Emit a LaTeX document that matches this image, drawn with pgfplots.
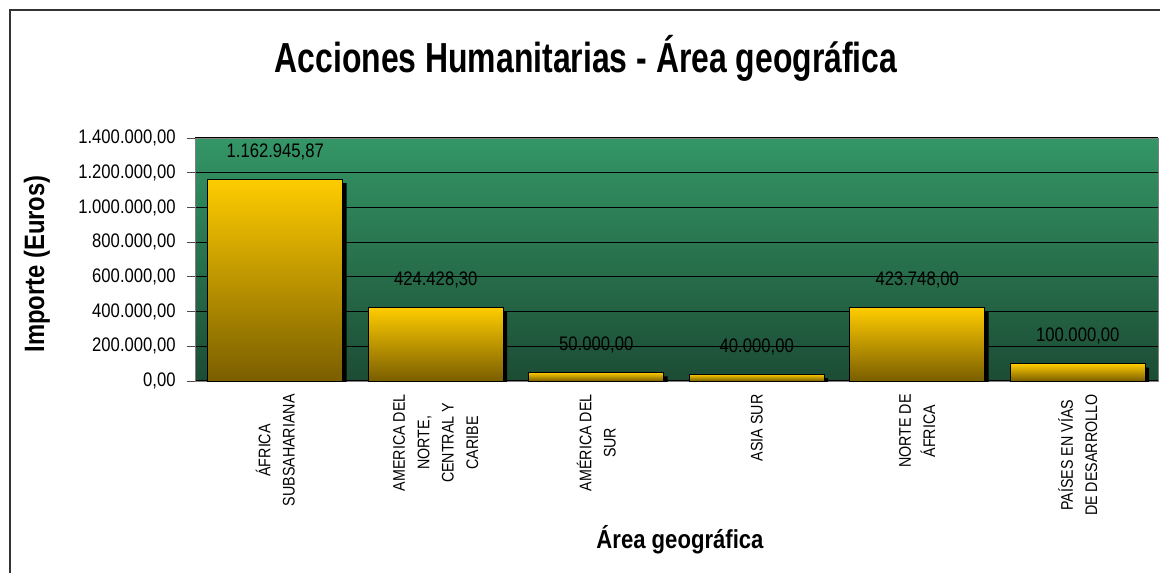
\documentclass[border=0pt]{standalone}
\usepackage{pgfplots}
\pgfplotsset{compat=1.18}
\usepackage{fontspec}
\setmainfont{Liberation Sans}[FakeStretch=0.85]
\newfontfamily\titlefont{Liberation Sans}[FakeStretch=0.76]
\definecolor{bgtop}{RGB}{52,150,102}
\definecolor{bgbot}{RGB}{28,76,52}
\definecolor{bartop}{RGB}{255,204,0}
\definecolor{barbot}{RGB}{122,94,0}
\pgfplotsset{
  shadowbar/.style={ybar, bar width=0.84, fill=black, draw=none,
    transform canvas={xshift=2pt, yshift=-2pt}, forget plot},
  goldbar/.style={ybar, bar width=0.84, draw=black, line width=0.5pt,
    top color=bartop, bottom color=barbot,
    nodes near coords, point meta=explicit symbolic,
    every node near coord/.style={font=\fontsize{9.8}{11}\selectfont, text=black, anchor=south, yshift=6pt, shade=false, fill=none}},
}
\begin{document}
\begin{tikzpicture}
\useasboundingbox (0,0) rectangle (580pt,286.5pt);
\draw[line width=1pt,black!80] (5pt,0) -- (5pt,281.5pt) -- (580pt,281.5pt);
\begin{axis}[
  at={(97.5pt,96pt)}, anchor=south west,
  scale only axis, width=481.5pt, height=121.5pt,
  xmin=-0.5, xmax=5.5, ymin=0, ymax=1400000,
  axis background/.style={shade, top color=bgtop, bottom color=bgbot},
  axis line style={draw=gray},
  ytick={0,200000,...,1400000},
  yticklabels={{0,00},{200.000,00},{400.000,00},{600.000,00},{800.000,00},{1.000.000,00},{1.200.000,00},{1.400.000,00}},
  ytick pos=left, xtick pos=bottom,
  tick align=outside,
  major tick length=4pt,
  tick style={draw=black!70, line width=0.5pt},
  ymajorgrids, grid style={black, line width=0.6pt},
  yticklabel style={font=\fontsize{9.8}{11}\selectfont, inner sep=0pt, xshift=-5.5pt},
  xtick={0,...,5},
  xticklabels={{ÁFRICA\\SUBSAHARIANA},{AMERICA DEL\\NORTE,\\CENTRAL Y\\CARIBE},{AMÉRICA DEL\\SUR},{ASIA SUR},{NORTE DE\\ÁFRICA},{PAÍSES EN VÍAS\\DE DESARROLLO}},
  major x tick style={draw=none},
  xticklabel style={rotate=90, anchor=east, align=center, inner sep=0pt, font=\fontsize{8.4}{12.2}\selectfont, xshift=-2.5pt},
  extra x ticks={-0.5,0.5,1.5,2.5,3.5,4.5,5.5},
  extra x tick labels={},
  extra x tick style={major tick length=4pt, tick style={draw=black!70}, grid=none},
  scaled y ticks=false,
  clip=true,
]
% shadows
\addplot[shadowbar] coordinates {(0,1162945.87) (1,424428.30) (2,50000) (3,40000) (4,423748) (5,100000)};
% bars, one per category so each gets its own gradient
\addplot[goldbar] coordinates {(0,1162945.87) [1.162.945,87]};
\addplot[goldbar] coordinates {(1,424428.30) [424.428,30]};
\addplot[goldbar] coordinates {(2,50000) [50.000,00]};
\addplot[goldbar] coordinates {(3,40000) [40.000,00]};
\addplot[goldbar] coordinates {(4,423748) [423.748,00]};
\addplot[goldbar] coordinates {(5,100000) [100.000,00]};
\end{axis}
\node[font=\titlefont\bfseries\fontsize{21}{25}\selectfont] at (293pt,257.5pt) {Acciones Humanitarias - Área geográfica};
\node[font=\bfseries\fontsize{14}{16}\selectfont, rotate=90] at (18.5pt,154.5pt) {Importe (Euros)};
\node[font=\bfseries\fontsize{13}{15}\selectfont] at (340pt,16.5pt) {Área geográfica};
\end{tikzpicture}
\end{document}
